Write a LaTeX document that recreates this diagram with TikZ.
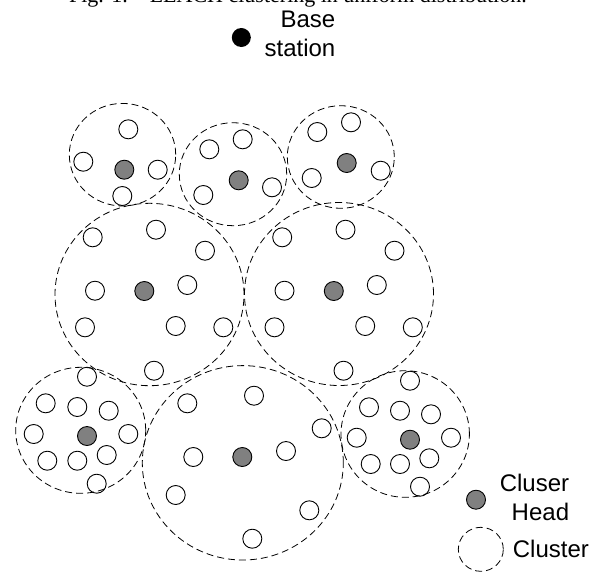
\documentclass[tikz,border=0pt]{standalone}
\usepackage{fontspec}
\setmainfont{Liberation Sans}
\newfontfamily\capfont{Liberation Serif}
\usetikzlibrary{shapes.geometric}
\definecolor{headgray}{RGB}{128,128,128}
\begin{document}
\begin{tikzpicture}[x=1pt,y=-1pt,
  sensor/.style={circle,draw,line width=0.9pt,minimum size=19pt,inner sep=0pt},
  chead/.style={sensor,fill=headgray},
  cluster/.style={ellipse,draw,dash pattern=on 7pt off 4pt,line width=0.8pt,inner sep=0pt},
  lbl/.style={font=\fontsize{24}{29}\selectfont,inner sep=0pt}]
\useasboundingbox (0,0) rectangle (601,574);

% caption line of the figure (only its lower edge lies on the page)
\begin{scope}
  \clip (0,0) rectangle (601,574);
  \node[font=\capfont\fontsize{22}{26}\selectfont,anchor=base east,inner sep=0pt]
    (caption) at (527,2.5) {Fig. 1.\quad LEACH clustering in uniform distribution.};
\end{scope}

% base station
\node[circle,fill=black,minimum size=19pt,inner sep=0pt] (bs) at (241.3,37.5) {};
\node[lbl,align=right,anchor=north east] (bslabel) at (335.5,10.3) {Base\\station};

% cluster boundaries
\node[cluster,minimum width=106.4pt,minimum height=102.6pt] (c1) at (122.5,154.7) {};
\node[cluster,minimum width=107.4pt,minimum height=103pt]   (c2) at (233,174.2) {};
\node[cluster,minimum width=107pt,minimum height=102.6pt]   (c3) at (340.8,157) {};
\node[cluster,minimum width=189pt,minimum height=182.4pt]   (c4) at (149.5,294.5) {};
\node[cluster,minimum width=189pt,minimum height=183pt]     (c5) at (339,294) {};
\node[cluster,minimum width=130pt,minimum height=126pt]     (c6) at (80.7,430.3) {};
\node[cluster,minimum width=201pt,minimum height=194.4pt]   (c7) at (242.8,462.8) {};
\node[cluster,minimum width=128.4pt,minimum height=126.6pt] (c8) at (405.2,434) {};

% cluster 1
\node[sensor] (n1a) at (128.3,129.3) {};
\node[sensor] (n1b) at (83.3,161.7) {};
\node[chead]  (h1)  at (124.3,169.7) {};
\node[sensor] (n1c) at (157.7,169.7) {};
\node[sensor] (n1d) at (122.3,196) {};

% cluster 2
\node[sensor] (n2a) at (242.7,139.3) {};
\node[sensor] (n2b) at (209.3,149.3) {};
\node[chead]  (h2)  at (238.7,180.3) {};
\node[sensor] (n2c) at (203.3,195) {};
\node[sensor] (n2d) at (272,187.3) {};

% cluster 3
\node[sensor] (n3a) at (351,122.3) {};
\node[sensor] (n3b) at (317.3,132) {};
\node[chead]  (h3)  at (346.7,163) {};
\node[sensor] (n3c) at (311.7,178) {};
\node[sensor] (n3d) at (380.7,170.7) {};

% cluster 4
\node[sensor] (n4a) at (92.7,237.3) {};
\node[sensor] (n4b) at (156,229.7) {};
\node[sensor] (n4c) at (205,250.7) {};
\node[sensor] (n4d) at (95,290.7) {};
\node[chead]  (h4)  at (144.3,291) {};
\node[sensor] (n4e) at (187.3,285) {};
\node[sensor] (n4f) at (85,327.3) {};
\node[sensor] (n4g) at (175.7,326) {};
\node[sensor] (n4h) at (223.3,327.3) {};
\node[sensor] (n4i) at (154,370.7) {};

% cluster 5
\node[sensor] (n5a) at (282.2,237.3) {};
\node[sensor] (n5b) at (345.5,229.7) {};
\node[sensor] (n5c) at (394.5,250.7) {};
\node[sensor] (n5d) at (284.5,290.7) {};
\node[chead]  (h5)  at (333.8,291) {};
\node[sensor] (n5e) at (376.8,285) {};
\node[sensor] (n5f) at (274.5,327.3) {};
\node[sensor] (n5g) at (365.2,326) {};
\node[sensor] (n5h) at (412.8,327.3) {};
\node[sensor] (n5i) at (343.5,370.7) {};

% cluster 6
\node[sensor] (n6a) at (87,376.7) {};
\node[sensor] (n6b) at (45.7,403.3) {};
\node[sensor] (n6c) at (77.3,407) {};
\node[sensor] (n6d) at (108.7,410.7) {};
\node[sensor] (n6e) at (33.7,434) {};
\node[chead]  (h6)  at (87,436) {};
\node[sensor] (n6f) at (128.3,434) {};
\node[sensor] (n6g) at (47.3,460.7) {};
\node[sensor] (n6h) at (77.3,460.7) {};
\node[sensor] (n6i) at (106.7,455) {};
\node[sensor] (n6j) at (96.7,483.7) {};

% cluster 7
\node[sensor] (n7a) at (254,395.7) {};
\node[sensor] (n7b) at (187.3,403.3) {};
\node[sensor] (n7c) at (321.7,428.3) {};
\node[sensor] (n7d) at (193.3,457) {};
\node[chead]  (h7)  at (242.3,457) {};
\node[sensor] (n7e) at (286,451) {};
\node[sensor] (n7f) at (175.7,495) {};
\node[sensor] (n7g) at (309.3,510.3) {};
\node[sensor] (n7h) at (252.3,538.7) {};

% cluster 8
\node[sensor] (n8a) at (410,380.7) {};
\node[sensor] (n8b) at (369,407.3) {};
\node[sensor] (n8c) at (400,410.7) {};
\node[sensor] (n8d) at (431,414.3) {};
\node[sensor] (n8e) at (356.7,437.7) {};
\node[chead]  (h8)  at (410,439.7) {};
\node[sensor] (n8f) at (451,437.7) {};
\node[sensor] (n8g) at (370.7,464) {};
\node[sensor] (n8h) at (400,464) {};
\node[sensor] (n8i) at (429.3,458.3) {};
\node[sensor] (n8j) at (420,486.7) {};

% legend
\node[chead] (keyhead) at (476,499.7) {};
\node[lbl,align=right,anchor=north east] (keyheadlabel) at (569.3,473.5) {Cluser\\Head};
\node[cluster,minimum width=45pt,minimum height=44pt] (keycluster) at (480.8,549.3) {};
\node[lbl,anchor=base west] (keyclusterlabel) at (512.7,557.3) {Cluster};
\end{tikzpicture}
\end{document}
